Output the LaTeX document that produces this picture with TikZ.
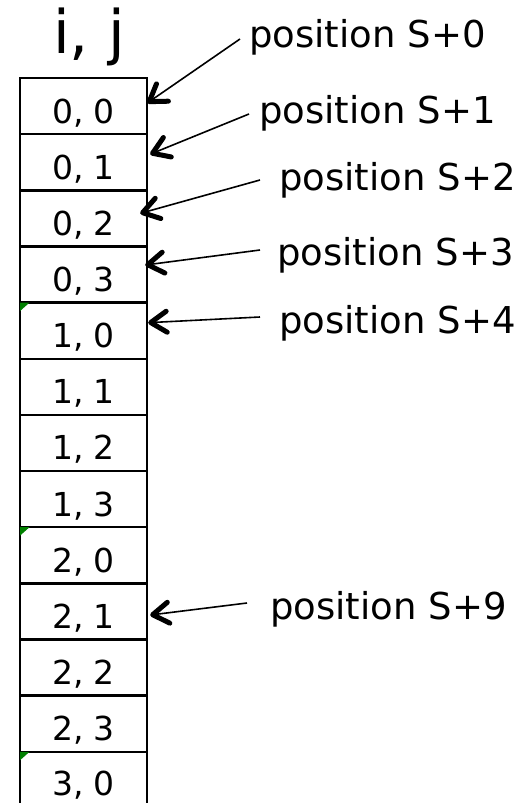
\documentclass[tikz,border=0pt]{standalone}
\usepackage{fontspec}
\setmainfont{DejaVu Sans}
\usetikzlibrary{arrows.meta,calc}
\begin{document}
\begin{tikzpicture}[x=1pt,y=-1pt,
  cell/.style={draw=black, line width=2.4pt, minimum width=127pt, minimum height=56.15pt,
    inner sep=0pt, text height=40pt, text depth=6pt,
    font=\fontsize{33}{35}\selectfont},
  lastcell/.style={cell, draw=none, minimum height=50pt, text height=44pt, text depth=6pt},
  frame/.style={draw=black, line width=2.4pt},
  lbl/.style={anchor=base west, inner sep=0pt, font=\fontsize{37}{40}\selectfont},
  ptr/.style={line width=1.6pt, -{Straight Barb[length=16pt,width=21pt,line width=5pt,round]}},
  flag/.style={fill=green!50!black, draw=none}]
\useasboundingbox (0,0) rectangle (526,803);
\clip (0,0) rectangle (526,803);
\fill[white] (0,0) rectangle (526,803);

\node[anchor=base, inner sep=0pt, font=\fontsize{60}{64}\selectfont] (title) at (89,53) {i, j};

\node[cell] (c0)  at (83.5,{78+56.15*0.5})  {0, 0};
\node[cell] (c1)  at (83.5,{78+56.15*1.5})  {0, 1};
\node[cell] (c2)  at (83.5,{78+56.15*2.5})  {0, 2};
\node[cell] (c3)  at (83.5,{78+56.15*3.5})  {0, 3};
\node[cell] (c4)  at (83.5,{78+56.15*4.5})  {1, 0};
\node[cell] (c5)  at (83.5,{78+56.15*5.5})  {1, 1};
\node[cell] (c6)  at (83.5,{78+56.15*6.5})  {1, 2};
\node[cell] (c7)  at (83.5,{78+56.15*7.5})  {1, 3};
\node[cell] (c8)  at (83.5,{78+56.15*8.5})  {2, 0};
\node[cell] (c9)  at (83.5,{78+56.15*9.5})  {2, 1};
\node[cell] (c10) at (83.5,{78+56.15*10.5}) {2, 2};
\node[cell] (c11) at (83.5,{78+56.15*11.5}) {2, 3};
\node[lastcell] (c12) at (83.5,{78+56.15*12+25}) {3, 0};
\draw[frame] ($(c12.north west)+(1.2,1.2)$) -- ($(c12.south west)+(1.2,2)$);
\draw[frame] ($(c12.north east)+(-1.2,1.2)$) -- ($(c12.south east)+(-1.2,2)$);

\foreach \n in {c4,c8,c12}{
  \fill[flag] ($(\n.north west)+(1.2,1.2)$) -- ++(9.5,0) -- ++(-9.5,8.5) -- cycle;
}

\node[lbl] (p0) at (249,47)  {position S+0};
\node[lbl] (p1) at (259,123) {position S+1};
\node[lbl] (p2) at (279,190) {position S+2};
\node[lbl] (p3) at (277,265) {position S+3};
\node[lbl] (p4) at (279,333) {position S+4};
\node[lbl] (p9) at (270,619) {position S+9};

\coordinate (a0) at (240,39);
\coordinate (a1) at (249,114);
\coordinate (a2) at (260,180);
\coordinate (a3) at (260,250);
\coordinate (a4) at (260,317);
\coordinate (a9) at (247,603);

\draw[ptr] (a0) -- ($(c0.east)+(-1,-3)$);
\draw[ptr] (a1) -- ($(c1.east)+(2,-8)$);
\draw[ptr] (a2) -- ($(c2.east)+(-8,-5)$);
\draw[ptr] (a3) -- ($(c3.east)+(-3,-9.5)$);
\draw[ptr] (a4) -- ($(c4.east)+(0,-8)$);
\draw[ptr] (a9) -- ($(c9.east)+(2,3.6)$);
\end{tikzpicture}
\end{document}
